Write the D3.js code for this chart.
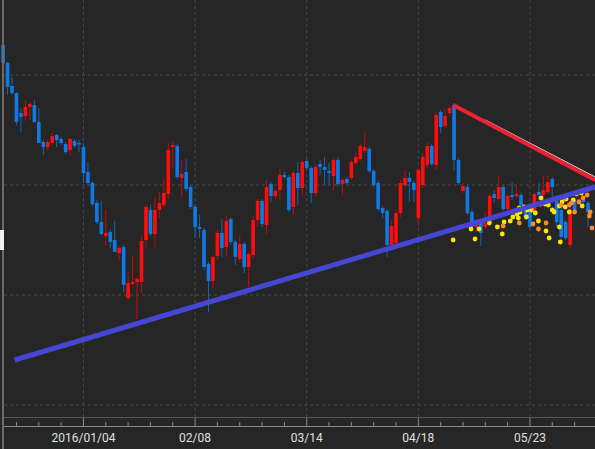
<!DOCTYPE html>
<html>
<head>
<meta charset="utf-8">
<script src="https://cdn.jsdelivr.net/npm/d3@7"></script>
<style>
  html, body { margin: 0; padding: 0; background: #262626; }
  svg { display: block; }
</style>
</head>
<body>
<script>
// candles: [open, high, low, close] in index points, one per weekday from 2015/12/09
const candles = [
  [455,457,434,437],[437,438,405,413],[414,423,405,407],[407,408,375,378],[387,392,368,383],
  [384,400,379,393],[393,398,380,396],[395,400,377,378],[378,392,357,357],[358,360,345,353],
  [353,360,350,358],[357,367,355,364],[365,366,353,360],[361,363,355,357],[356,358,346,348],
  [350,362,345,361],[359,361,352,354],[357,360,348,356],[353,357,317,327],[328,338,315,317],
  [317,319,294,296],[297,300,276,278],[278,299,265,266],[264,290,255,267],[268,270,252,258],
  [260,279,248,248],[247,254,240,252],[253,255,208,215],[202,228,200,217],[216,244,215,218],
  [218,223,181,221],[218,264,207,259],[260,295,253,293],[290,295,264,266],[266,302,253,290],
  [290,308,282,297],[295,321,293,307],[306,357,301,350],[353,359,333,355],[354,356,321,323],
  [322,340,303,326],[328,341,309,311],[313,315,291,293],[293,295,262,273],[273,285,262,271],
  [270,272,230,233],[236,238,188,219],[219,245,212,243],[244,270,240,267],[267,281,243,252],
  [253,284,243,279],[281,283,255,258],[258,260,235,243],[241,265,238,256],[256,258,227,233],
  [233,248,213,246],[245,283,242,280],[280,301,273,299],[299,301,273,276],[275,320,266,313],
  [316,318,298,304],[304,311,301,309],[310,331,301,325],[325,328,321,323],[323,325,288,290],
  [293,329,285,327],[327,338,295,312],[312,340,305,338],[339,341,330,332],[332,334,297,307],
  [307,335,304,333],[336,340,325,333],[333,343,315,330],[329,337,315,327],[324,342,310,340],
  [340,343,314,316],[316,322,305,320],[321,323,316,317],[322,340,320,338],[337,347,335,343],
  [341,356,339,354],[349,368,347,353],[351,353,327,329],[329,331,313,315],[317,319,289,291],
  [292,294,282,287],[289,291,243,255],[255,280,252,274],[257,290,255,287],[287,320,283,317],
  [315,330,313,322],[322,328,298,318],[317,319,298,310],[282,332,273,330],[315,347,312,343],
  [335,358,332,354],[354,356,334,336],[335,388,330,385],[388,390,367,373],[374,391,372,384],
  [387,394,385,392],[395,397,330,340],[340,342,315,317],[309,317,307,314],[313,315,285,287],
  [288,290,271,273],[273,280,268,277],[277,279,254,267],[273,288,271,277],[277,306,275,304],
  [306,310,298,302],[301,324,299,313],[313,315,289,291],[291,306,289,304],[305,318,300,303],
  [304,314,302,306],[305,307,293,295],[293,295,280,282],[293,295,271,273],[288,308,286,306],
  [308,317,300,305],[305,324,303,310],[308,324,306,318],[321,323,297,313],[303,305,273,278],
  [290,292,261,263],[278,280,260,262],[255,293,252,291],[300,302,288,290],[297,303,295,301],
  [300,302,296,298],[297,299,273,288]
];

const majorTicks = [18, 43, 68, 93, 118];
const majorLabels = ['2016/01/04', '02/08', '03/14', '04/18', '05/23'];
const minorTicks = [3,8,13,23,28,33,38,48,53,58,63,73,78,83,88,98,103,108,113,123,128];
const gridValues = [425, 315, 205, 95];

// trend lines [index, value]
const supportLine = [[2.6, 140], [132.6, 313]];
const resistLine = [[100.8, 395], [132.6, 320]];
const thinLine = [[108, 380], [132.6, 323]];

// dots [index, value]
const yellowDots = [
  [100.8,260],[104.8,271],[105.7,261],[106.6,271],[108.9,277],[110.7,273],[111.8,266],
  [112.2,278],[113.6,279],[114.2,283],[115.1,286],[115.4,282],[115.8,288],[117.2,283],
  [118.3,290],[119.2,287],[119.9,279],[120.3,296],[121.4,296],[122.1,295],[123.0,290],
  [123.4,288],[124.6,294],[125.2,298],[125.9,293],[126.8,288],[127.7,300],[128.4,306],
  [129.5,307],[121.6,269],[122.3,262],[124.6,273],[124.8,258],[115.6,292],[116.7,293],
  [117.4,290],[120.5,302],[126.1,301],[129.7,294]
];
const orangeDots = [
  [112.0,274],[115.6,277],[119.9,271],[118.7,276],[121.6,277],[125.0,295],[125.7,302],
  [126.8,295],[127.3,297],[128.0,288],[129.0,298],[130.8,305],[131.5,288],[131.9,272],
  [129.9,302],[131.3,284]
];

const w = 595, h = 449;
const svg = d3.select('body').append('svg').attr('width', w).attr('height', h);

const x = d3.scaleLinear().domain([0, 131]).range([3.1, 588]);
const y = d3.scaleLinear().domain([0, 500]).range([500, 0]);

//grid
svg.selectAll('.hgrid').data(gridValues).enter().append('line')
  .attr('x1', 4).attr('x2', w).attr('y1', d => y(d)).attr('y2', d => y(d))
  .attr('stroke', '#4a4a4a').attr('stroke-dasharray', '3,3');
svg.selectAll('.vgrid').data(majorTicks).enter().append('line')
  .attr('x1', d => x(d)).attr('x2', d => x(d)).attr('y1', 0).attr('y2', 417)
  .attr('stroke', '#4a4a4a').attr('stroke-dasharray', '3,3');

//candles
const up = '#ff0d0d', down = '#0f7ae5';
const c = svg.selectAll('.candle').data(candles).enter().append('g');
c.append('line')
  .attr('x1', (d, i) => x(i)).attr('x2', (d, i) => x(i))
  .attr('y1', d => y(d[1])).attr('y2', d => y(d[2]))
  .attr('stroke', d => d[3] >= d[0] ? '#c80a0a' : '#1266b8').attr('stroke-width', 1);
c.append('rect')
  .attr('x', (d, i) => x(i) - 1.8).attr('width', 3.6)
  .attr('y', d => y(Math.max(d[0], d[3])))
  .attr('height', d => Math.max(1.5, Math.abs(y(d[0]) - y(d[3]))))
  .attr('fill', d => d[3] >= d[0] ? up : down);

//dots
const dotSets = [[yellowDots, '#ffe800'], [orangeDots, '#ff8a2a']];
dotSets.forEach(function(s) {
  svg.selectAll(null).data(s[0]).enter().append('circle')
    .attr('cx', d => x(d[0])).attr('cy', d => y(d[1])).attr('r', 2.4)
    .attr('fill', s[1]);
});

//trend lines
const line = d3.line().x(d => x(d[0])).y(d => y(d[1]));
svg.append('path').attr('d', line(thinLine)).attr('stroke', '#e8e8e8').attr('stroke-width', 1).attr('fill', 'none');
svg.append('path').attr('d', line(supportLine)).attr('stroke', '#4646d2').attr('stroke-width', 5).attr('fill', 'none');
svg.append('path').attr('d', line(resistLine)).attr('stroke', '#ee2233').attr('stroke-width', 4).attr('fill', 'none');

//bottom area
svg.append('rect').attr('x', 0).attr('y', 418).attr('width', w).attr('height', 31).attr('fill', '#262626');
svg.append('line').attr('x1', 3).attr('x2', w).attr('y1', 417.5).attr('y2', 417.5).attr('stroke', '#555');
svg.append('line').attr('x1', 3).attr('x2', w).attr('y1', 426.5).attr('y2', 426.5).attr('stroke', '#8a8a8a');
svg.selectAll('.minor').data(minorTicks).enter().append('line')
  .attr('x1', d => x(d)).attr('x2', d => x(d)).attr('y1', 422).attr('y2', 426)
  .attr('stroke', '#8a8a8a');
svg.selectAll('.major').data(majorTicks).enter().append('line')
  .attr('x1', d => x(d)).attr('x2', d => x(d)).attr('y1', 418).attr('y2', 426)
  .attr('stroke', '#8a8a8a');
svg.selectAll('.lbl').data(majorTicks).enter().append('text')
  .attr('x', d => x(d)).attr('y', 442).attr('text-anchor', 'middle')
  .attr('fill', '#e0e0e0').style('font-family', 'Roboto, sans-serif').style('font-size', '12px')
  .text((d, i) => majorLabels[i]);

//left border
svg.append('line').attr('x1', 3).attr('x2', 3).attr('y1', 0).attr('y2', h).attr('stroke', '#6a6a6a').attr('stroke-width', 2);
svg.append('rect').attr('x', 0).attr('y', 230).attr('width', 4).attr('height', 20).attr('fill', '#f2f2f2');
</script>
</body>
</html>
